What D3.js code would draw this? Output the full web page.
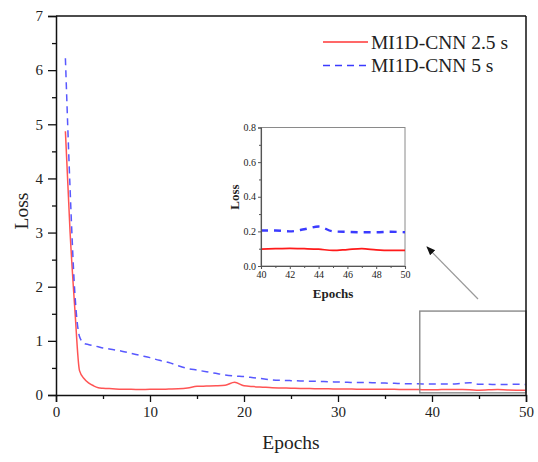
<!DOCTYPE html>
<html>
<head>
<meta charset="utf-8">
<script src="https://cdn.jsdelivr.net/npm/d3@7"></script>
<style>
  html, body { margin: 0; padding: 0; background: #fff; }
  svg { display: block; }
  text { font-family: "Liberation Serif", "Times New Roman", serif; fill: #222; }
</style>
</head>
<body>
<svg id="chart" width="538" height="462"></svg>
<script>
// Training loss per epoch for the two window lengths
const epochs = [1, 1.5, 2, 2.5, 3, 3.5, 4, 4.5, 5, 6, 7, 8, 9, 10, 11, 12, 13, 14, 15, 16, 17, 18, 19, 20,
  21, 22, 23, 24, 25, 26, 27, 28, 29, 30, 31, 32, 33, 34, 35, 36, 37, 38, 39, 40,
  41, 42, 43, 44, 45, 46, 47, 48, 49, 50];
const loss25 = [4.87, 3.0, 1.6, 0.45, 0.3, 0.22, 0.17, 0.135, 0.125, 0.115, 0.105, 0.105, 0.1, 0.105, 0.105, 0.11, 0.115, 0.13, 0.16, 0.165, 0.17, 0.18, 0.235, 0.17,
  0.155, 0.145, 0.135, 0.13, 0.125, 0.12, 0.118, 0.116, 0.114, 0.112, 0.11, 0.108, 0.107, 0.106, 0.105, 0.104, 0.102, 0.1, 0.099, 0.097,
  0.1, 0.102, 0.1, 0.097, 0.09, 0.095, 0.1, 0.093, 0.09, 0.09];
const loss5 = [6.22, 3.8, 1.9, 1.08, 0.95, 0.93, 0.91, 0.89, 0.87, 0.84, 0.81, 0.77, 0.73, 0.69, 0.64, 0.6, 0.54, 0.49, 0.46, 0.43, 0.4, 0.37, 0.35, 0.34,
  0.32, 0.3, 0.28, 0.27, 0.265, 0.26, 0.255, 0.25, 0.245, 0.24, 0.235, 0.23, 0.23, 0.225, 0.22, 0.215, 0.21, 0.21, 0.205, 0.205,
  0.205, 0.2, 0.212, 0.228, 0.2, 0.197, 0.195, 0.195, 0.198, 0.195];
const seriesNames = ["MI1D-CNN 2.5 s", "MI1D-CNN 5 s"];
const xTicks = [0, 10, 20, 30, 40, 50];
const yTicks = [0, 1, 2, 3, 4, 5, 6, 7];
const insetXTicks = [40, 42, 44, 46, 48, 50];
const insetYTicks = [0.0, 0.2, 0.4, 0.6, 0.8];
// Zoomed window (data units) shown in the inset
const zoomWindow = { x0: 38.7, x1: 50, y0: 0.04, y1: 1.55 };

const RED = "#ff3636";
const BLUE = "#3b3bff";

const svg = d3.select("#chart");

// ---------- main plot ----------
const x = d3.scaleLinear().domain([0, 50]).range([56, 526]);
const y = d3.scaleLinear().domain([0, 7]).range([395, 16]);

const redPts = epochs.map((e, i) => [e, loss25[i]]);
const bluePts = epochs.map((e, i) => [e, loss5[i]]);

const line = d3.line().x(d => x(d[0])).y(d => y(d[1])).curve(d3.curveMonotoneX);

svg.append("path").datum(redPts).attr("d", line)
  .attr("fill", "none").attr("stroke", RED).attr("stroke-width", 1.5).attr("stroke-opacity", 0.85);
svg.append("path").datum(bluePts).attr("d", line)
  .attr("fill", "none").attr("stroke", BLUE).attr("stroke-width", 1.5)
  .attr("stroke-dasharray", "7,5").attr("stroke-opacity", 0.85);

// zoom window rectangle
svg.append("rect")
  .attr("x", x(zoomWindow.x0)).attr("y", y(zoomWindow.y1))
  .attr("width", x(zoomWindow.x1) - x(zoomWindow.x0))
  .attr("height", y(zoomWindow.y0) - y(zoomWindow.y1))
  .attr("fill", "none").attr("stroke", "#8a8a8a").attr("stroke-width", 1.4);

// frame (top and right)
svg.append("line").attr("x1", x(0)).attr("x2", x(50)).attr("y1", y(7)).attr("y2", y(7))
  .attr("stroke", "#111").attr("stroke-width", 1.5);
svg.append("line").attr("x1", x(50)).attr("x2", x(50)).attr("y1", y(7)).attr("y2", y(0))
  .attr("stroke", "#111").attr("stroke-width", 1.5);

// x axis
const xAxis = d3.axisBottom(x).tickValues(xTicks).tickSize(7).tickPadding(4).tickFormat(d3.format("d"));
const gx = svg.append("g").attr("transform", `translate(0,${y(0)})`).call(xAxis);
gx.select(".domain").attr("stroke", "#111").attr("stroke-width", 1.5);
gx.selectAll(".tick line").attr("stroke", "#111").attr("stroke-width", 1.3);
gx.selectAll(".tick text").attr("font-size", 15).attr("fill", "#222")
  .style("font-family", "Liberation Serif");
const gxm = svg.append("g").attr("transform", `translate(0,${y(0)})`)
  .call(d3.axisBottom(x).tickValues([5, 15, 25, 35, 45]).tickSize(4).tickFormat(""));
gxm.select(".domain").remove();
gxm.selectAll(".tick line").attr("stroke", "#111").attr("stroke-width", 1.3);

// y axis
const yAxis = d3.axisLeft(y).tickValues(yTicks).tickSize(8).tickPadding(5).tickFormat(d3.format("d"));
const gy = svg.append("g").attr("transform", `translate(${x(0)},0)`).call(yAxis);
gy.select(".domain").attr("stroke", "#111").attr("stroke-width", 1.5);
gy.selectAll(".tick line").attr("stroke", "#111").attr("stroke-width", 1.3);
gy.selectAll(".tick text").attr("font-size", 15).attr("fill", "#222")
  .style("font-family", "Liberation Serif");
const gym = svg.append("g").attr("transform", `translate(${x(0)},0)`)
  .call(d3.axisLeft(y).tickValues([0.5, 1.5, 2.5, 3.5, 4.5, 5.5, 6.5]).tickSize(4).tickFormat(""));
gym.select(".domain").remove();
gym.selectAll(".tick line").attr("stroke", "#111").attr("stroke-width", 1.3);

// axis titles
svg.append("text").attr("x", 291).attr("y", 449).attr("text-anchor", "middle")
  .attr("font-size", 19.5).text("Epochs");
svg.append("text").attr("transform", "translate(28,211) rotate(-90)").attr("text-anchor", "middle")
  .attr("font-size", 19.5).text("Loss");

// legend
const legend = svg.append("g");
[0, 1].forEach(i => {
  const ly = 42 + i * 23.5;
  legend.append("line").attr("x1", 323).attr("x2", 368).attr("y1", ly).attr("y2", ly)
    .attr("stroke", i === 0 ? RED : BLUE).attr("stroke-width", 1.6)
    .attr("stroke-dasharray", i === 0 ? null : "7,5");
  legend.append("text").attr("x", 371).attr("y", ly + 6.5).attr("font-size", 19.5)
    .text(seriesNames[i]);
});

// arrow from zoom window to inset
const defs = svg.append("defs");
defs.append("marker").attr("id", "arrowhead").attr("viewBox", "0 0 10 10")
  .attr("refX", 9).attr("refY", 5).attr("markerWidth", 9).attr("markerHeight", 9)
  .attr("markerUnits", "userSpaceOnUse").attr("orient", "auto")
  .append("path").attr("d", "M0,1 L10,5 L0,9 Z").attr("fill", "#111");
svg.append("line").attr("x1", 478).attr("y1", 299).attr("x2", 427).attr("y2", 247)
  .attr("stroke", "#999").attr("stroke-width", 1.2).attr("marker-end", "url(#arrowhead)");

// ---------- inset ----------
const ix = d3.scaleLinear().domain([40, 50]).range([261, 405]);
const iy = d3.scaleLinear().domain([0, 0.8]).range([266, 127.5]);
const inset = svg.append("g");

inset.append("rect").attr("x", 261).attr("y", 127.5).attr("width", 144).attr("height", 138.5)
  .attr("fill", "#fff").attr("stroke", "#8a8a8a").attr("stroke-width", 1);

const iline = d3.line().x(d => ix(d[0])).y(d => iy(d[1])).curve(d3.curveMonotoneX);
const inRange = p => p[0] >= 40;
inset.append("path").datum(redPts.filter(inRange)).attr("d", iline)
  .attr("fill", "none").attr("stroke", "#ff1a1a").attr("stroke-width", 1.7);
inset.append("path").datum(bluePts.filter(inRange)).attr("d", iline)
  .attr("fill", "none").attr("stroke", BLUE).attr("stroke-width", 2.4)
  .attr("stroke-dasharray", "7,6");

const igx = inset.append("g").attr("transform", `translate(0,${iy(0)})`)
  .call(d3.axisBottom(ix).tickValues(insetXTicks).tickSize(3).tickPadding(2).tickFormat(d3.format("d")));
const igxm = inset.append("g").attr("transform", `translate(0,${iy(0)})`)
  .call(d3.axisBottom(ix).tickValues([41, 43, 45, 47, 49]).tickSize(2).tickFormat(""));
const igy = inset.append("g").attr("transform", `translate(${ix(40)},0)`)
  .call(d3.axisLeft(iy).tickValues(insetYTicks).tickSize(3).tickPadding(2).tickFormat(d3.format(".1f")));
const igym = inset.append("g").attr("transform", `translate(${ix(40)},0)`)
  .call(d3.axisLeft(iy).tickValues([0.1, 0.3, 0.5, 0.7]).tickSize(2).tickFormat(""));
[igx, igy].forEach(g => {
  g.select(".domain").attr("stroke", "#555").attr("stroke-width", 1.1);
  g.selectAll(".tick line").attr("stroke", "#555");
  g.selectAll(".tick text").attr("font-size", 10).attr("fill", "#333")
    .style("font-family", "Liberation Serif");
});
[igxm, igym].forEach(g => {
  g.select(".domain").remove();
  g.selectAll(".tick line").attr("stroke", "#555");
});

inset.append("text").attr("x", 333).attr("y", 298).attr("text-anchor", "middle")
  .attr("font-size", 13).attr("font-weight", "bold").text("Epochs");
inset.append("text").attr("transform", "translate(239,197) rotate(-90)").attr("text-anchor", "middle")
  .attr("font-size", 13).attr("font-weight", "bold").text("Loss");
</script>
</body>
</html>
